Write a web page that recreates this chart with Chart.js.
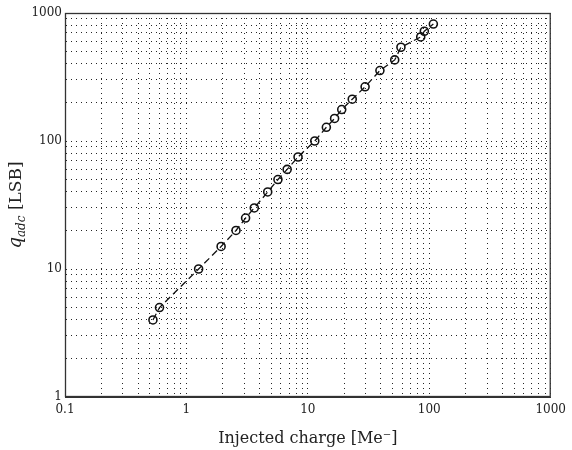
<!DOCTYPE html>
<html>
<head>
<meta charset="utf-8">
<script src="https://cdn.jsdelivr.net/npm/chart.js@4.4.0/dist/chart.umd.min.js"></script>
<style>
  html, body { margin: 0; padding: 0; background: #fff; }
  #wrap { width: 572px; height: 450px; }
</style>
</head>
<body>
<div id="wrap"><canvas id="chartLine" width="572" height="450"></canvas></div>
<script>
const chargeMe = [0.53, 0.60, 1.26, 1.93, 2.56, 3.07, 3.62, 4.67, 5.67, 6.75, 8.3, 11.4,
                  14.2, 16.6, 19.0, 23.2, 29.6, 39.2, 51.9, 58.4, 85, 91, 108];
const qAdc     = [4, 5, 10, 15, 20, 25, 30, 40, 50, 60, 75, 100,
                  128, 150, 176, 212, 265, 355, 430, 540, 650, 720, 820];

const xMajorTicks = [0.1, 1, 10, 100, 1000];
const yMajorTicks = [1, 10, 100, 1000];

const serif = "'DejaVu Serif', 'Liberation Serif', serif";

// 1..9 x 10^n between the major ticks
function logTicks(majors) {
    let out = [];
    for (let i = 0; i < majors.length; i++) {
        out.push({ value: majors[i], major: true });
        if (i < majors.length - 1) {
            for (let k = 2; k <= 9; k++) {
                out.push({ value: +(majors[i] * k).toPrecision(3), major: false });
            }
        }
    }
    return out;
}

const points = chargeMe.map((c, i) => ({ x: c, y: qAdc[i] }));

const frame = {
    id: 'frame',
    afterDraw(chart) {
        const ctx = chart.ctx;
        const a = chart.chartArea;
        ctx.save();
        ctx.strokeStyle = '#333';
        ctx.lineWidth = 1.3;
        ctx.strokeRect(a.left + 0.5, a.top + 0.5, a.right - a.left - 1, a.bottom - a.top - 1);

        // y title: q_adc [LSB]
        ctx.translate(21, (a.top + a.bottom) / 2);
        ctx.rotate(-Math.PI / 2);
        ctx.fillStyle = '#222';
        ctx.textBaseline = 'alphabetic';
        ctx.font = 'italic 18px ' + serif;
        const w1 = ctx.measureText('q').width;
        ctx.font = 'italic 12px ' + serif;
        const w2 = ctx.measureText('adc').width;
        ctx.font = '17px ' + serif;
        const w3 = ctx.measureText(' [LSB]').width;
        let x0 = -(w1 + w2 + w3) / 2;
        ctx.font = 'italic 18px ' + serif;
        ctx.fillText('q', x0, 0);
        ctx.font = 'italic 12px ' + serif;
        ctx.fillText('adc', x0 + w1, 4);
        ctx.font = '17px ' + serif;
        ctx.fillText(' [LSB]', x0 + w1 + w2, 0);
        ctx.restore();
    }
};

const data = {
    datasets: [{
        label: '',
        data: points,
        borderColor: '#111',
        borderWidth: 1.3,
        borderDash: [7, 4],
        pointStyle: 'circle',
        pointRadius: 4,
        pointBorderWidth: 1.6,
        pointBorderColor: '#111',
        pointBackgroundColor: 'rgba(255,255,255,0)',
        tension: 0
    }]
};

const gridStyle = { color: 'rgba(0,0,0,0.85)', lineWidth: 1, drawTicks: false };

const configLineChart = {
    type: 'line',
    data,
    options: {
        responsive: false,
        animation: false,
        layout: { padding: { left: 0, right: 15, top: 13, bottom: 0 } },
        plugins: { legend: { display: false }, tooltip: { enabled: false } },
        scales: {
            x: {
                type: 'logarithmic',
                min: 0.1,
                max: 1000,
                afterBuildTicks: s => { s.ticks = logTicks(xMajorTicks); },
                afterFit: s => { s.height = 53; },
                grid: gridStyle,
                border: { display: true, color: '#333', width: 1, dash: [1, 4] },
                ticks: {
                    autoSkip: false,
                    maxRotation: 0,
                    padding: 6,
                    color: '#222',
                    font: { family: serif, size: 12 },
                    callback: v => xMajorTicks.includes(v) ? String(v) : ''
                },
                title: {
                    display: true,
                    text: 'Injected charge [Me\u207B]',
                    color: '#222',
                    font: { family: serif, size: 16 },
                    padding: { top: 0, bottom: 2 }
                }
            },
            y: {
                type: 'logarithmic',
                min: 1,
                max: 1000,
                afterBuildTicks: s => { s.ticks = logTicks(yMajorTicks); },
                afterFit: s => { s.width = 65; },
                grid: gridStyle,
                border: { display: true, color: '#333', width: 1, dash: [1, 4] },
                ticks: {
                    autoSkip: false,
                    padding: 3,
                    color: '#222',
                    font: { family: serif, size: 12 },
                    callback: v => yMajorTicks.includes(v) ? String(v) : ''
                }
            }
        }
    },
    plugins: [frame]
};

var chartLine = new Chart(document.getElementById('chartLine'), configLineChart);
</script>
</body>
</html>
